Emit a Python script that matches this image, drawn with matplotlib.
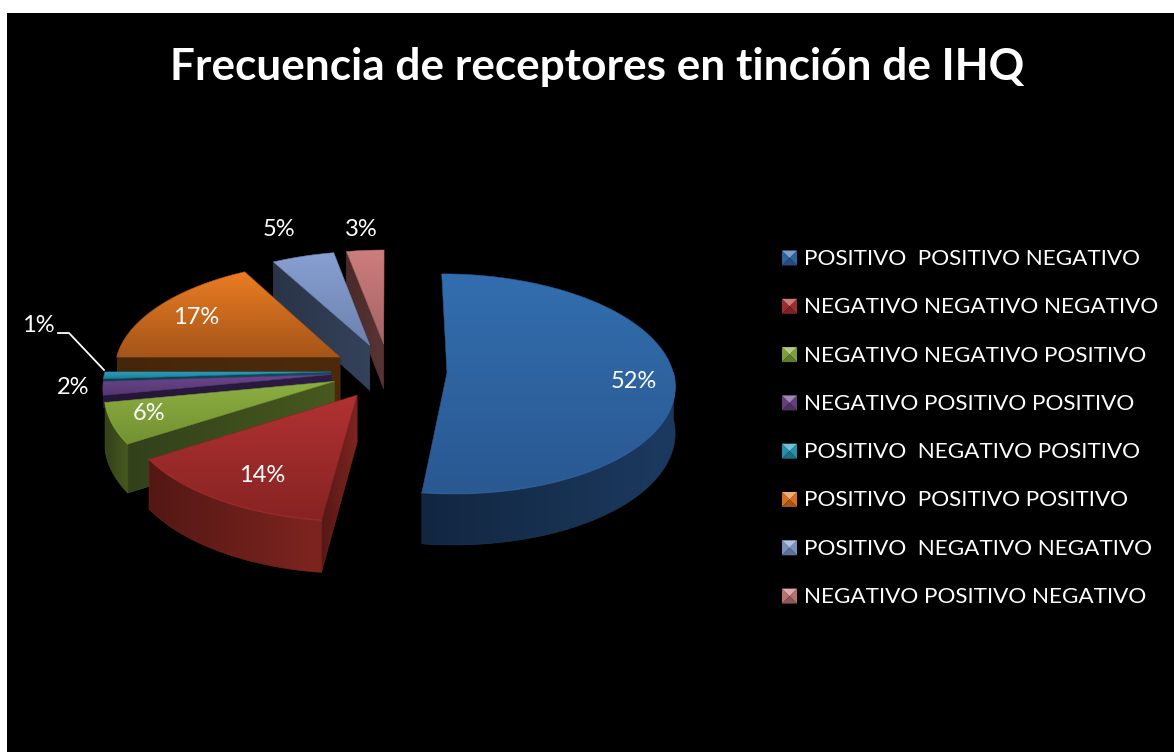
import numpy as np
import matplotlib
matplotlib.use('Agg')
import matplotlib.pyplot as plt
from matplotlib.patches import Polygon, Rectangle

plt.rcParams['font.family'] = ['Lato', 'DejaVu Sans']

title = 'Frecuencia de receptores en tinción de IHQ'
categories = ['POSITIVO  POSITIVO NEGATIVO', 'NEGATIVO NEGATIVO NEGATIVO',
              'NEGATIVO NEGATIVO POSITIVO', 'NEGATIVO POSITIVO POSITIVO',
              'POSITIVO  NEGATIVO POSITIVO', 'POSITIVO  POSITIVO POSITIVO',
              'POSITIVO  NEGATIVO NEGATIVO', 'NEGATIVO POSITIVO NEGATIVO']
values = [52, 14, 6, 2, 1, 17, 5, 3]

# colours: top of the slice light/dark, wall light/dark
top_light = ['#326EAF', '#B23232', '#8CAF41', '#6E468C', '#28A0BE', '#EB7D23', '#87A0D2', '#CD7D7D']
top_dark = ['#2A5891', '#872323', '#739132', '#553773', '#1E7891', '#A55519', '#6E82AF', '#A56464']
wall_light = ['#1C3A60', '#7E2420', '#47591F', '#2E1C44', '#0F4E60', '#4E2A0C', '#34425A', '#5A3434']
wall_dark = ['#122640', '#541814', '#32411A', '#241638', '#0C3E4C', '#46260A', '#2A3448', '#4A2A2A']

# percent label centres in pixels
label_pos = [(634, 382), (262, 475), (149, 414), (73, 388), (38, 326), (196, 318), (279, 230), (361, 230)]

# pie geometry
cx, cy = 389, 371
radius = 226
explode = 58
squash = 0.48
persp = 0.10
depth = 46
thin_depth = 12


def project(x, y, z=0):
    s = 1 / (1 - persp * y / radius)
    return cx + x * s, cy + y * squash * s + z * s


def gradient(ax, pts, c1, c2, vertical=True):
    # fill a polygon with a linear gradient, clipped to its outline
    pts = np.array(pts)
    x0, x1 = pts[:, 0].min(), pts[:, 0].max()
    y0, y1 = pts[:, 1].min(), pts[:, 1].max()
    a = np.array(matplotlib.colors.to_rgb(c1))
    b = np.array(matplotlib.colors.to_rgb(c2))
    t = np.linspace(0, 1, 64)
    img = a[None, :] * (1 - t[:, None]) + b[None, :] * t[:, None]
    img = img[:, None, :] if vertical else img[None, :, :]
    im = ax.imshow(img, extent=(x0, x1, y1, y0), aspect='auto', zorder=ax.zcount, interpolation='bilinear')
    patch = Polygon(pts, closed=True, transform=ax.transData, facecolor='none', edgecolor='none')
    ax.add_patch(patch)
    im.set_clip_path(patch)
    # thin edge hides the clip path's jagged border
    ax.add_patch(Polygon(pts, closed=True, facecolor='none', edgecolor=c2, lw=0.4, zorder=ax.zcount))
    ax.zcount += 1


fig = plt.figure(figsize=(11.74, 7.52), dpi=100, facecolor='white')
ax = fig.add_axes([0, 0, 1, 1])
ax.zcount = 2
ax.add_patch(Rectangle((7, 13), 1167, 739, facecolor='black', edgecolor='none', zorder=1))

starts = np.cumsum([0] + values[:-1]) * 3.6
ends = np.cumsum(values) * 3.6

# back slices first, the blue one last
for i in [7, 6, 5, 4, 3, 2, 1, 0]:
    t1, t2 = starts[i], ends[i]
    mid = np.radians((t1 + t2) / 2)
    ex, ey = explode * np.sin(mid), -explode * np.cos(mid)
    # the walls of the thin slices only show above the green one
    d = depth if values[i] > 2 else thin_depth
    apex = project(ex, ey)
    apex_low = project(ex, ey, d)
    theta = np.radians(np.linspace(t1, t2, 80))
    ox = ex + radius * np.sin(theta)
    oy = ey - radius * np.cos(theta)

    # flat cut face that looks toward the viewer
    if 180 <= t1 < 360:
        p = project(ox[0], oy[0])
        q = project(ox[0], oy[0], d)
        gradient(ax, [apex, p, q, apex_low], wall_dark[i], wall_light[i], vertical=False)

    # curved outer wall on the front half
    lo, hi = max(t1, 90), min(t2, 270)
    has_rim = lo < hi and values[i] > 2
    if has_rim:
        arc = np.radians(np.linspace(lo, hi, 80))
        ax_, ay_ = ex + radius * np.sin(arc), ey - radius * np.cos(arc)
        up = [project(a, b) for a, b in zip(ax_, ay_)]
        down = [project(a, b, d) for a, b in zip(ax_, ay_)]
        gradient(ax, up + down[::-1], wall_dark[i], wall_light[i], vertical=False)

    # top of the slice
    rim = [project(a, b) for a, b in zip(ox, oy)]
    gradient(ax, [apex] + rim, top_light[i], top_dark[i])

    # bevel highlight along the rim
    if has_rim:
        ax.plot([p[0] for p in up], [p[1] for p in up], color=top_light[i], lw=1, alpha=0.5, zorder=ax.zcount)
        ax.zcount += 1

for v, pos in zip(values, label_pos):
    ax.text(pos[0], pos[1], f'{v}%', color='white', fontsize=17, ha='center', va='center', zorder=500)

# leader line of the 1% label
ax.plot([58, 69, 104], [333, 333, 370], color='white', lw=1.3, zorder=500)

ax.text(597, 67, title, color='white', fontsize=31.8, fontweight='bold', ha='center', va='center', zorder=500)

# legend with bevelled keys
row0, row_step = 258, 48.3
key_x, key = 782, 15
for i, name in enumerate(categories):
    y = row0 + i * row_step
    ax.text(804, y + 1, name, color='white', fontsize=16.2, ha='left', va='center', zorder=500)
    x0, y0 = key_x, y - key / 2
    x1, y1 = x0 + key, y0 + key
    m = (x0 + x1) / 2, (y0 + y1) / 2
    rgb = np.array(matplotlib.colors.to_rgb(top_light[i]))
    top_c = rgb + (1 - rgb) * 0.35
    ax.add_patch(Polygon([(x0, y0), m, (x0, y1)], facecolor=rgb * 0.9, zorder=500))
    ax.add_patch(Polygon([(x1, y0), m, (x1, y1)], facecolor=rgb * 0.9, zorder=500))
    ax.add_patch(Polygon([(x0, y1), m, (x1, y1)], facecolor=rgb * 0.7, zorder=500))
    ax.add_patch(Polygon([(x0, y0), (x1, y0), m], facecolor=top_c, zorder=500))

ax.set_xlim(0, 1174)
ax.set_ylim(752, 0)
ax.axis('off')
fig.savefig('out.png', dpi=100, facecolor='white')
